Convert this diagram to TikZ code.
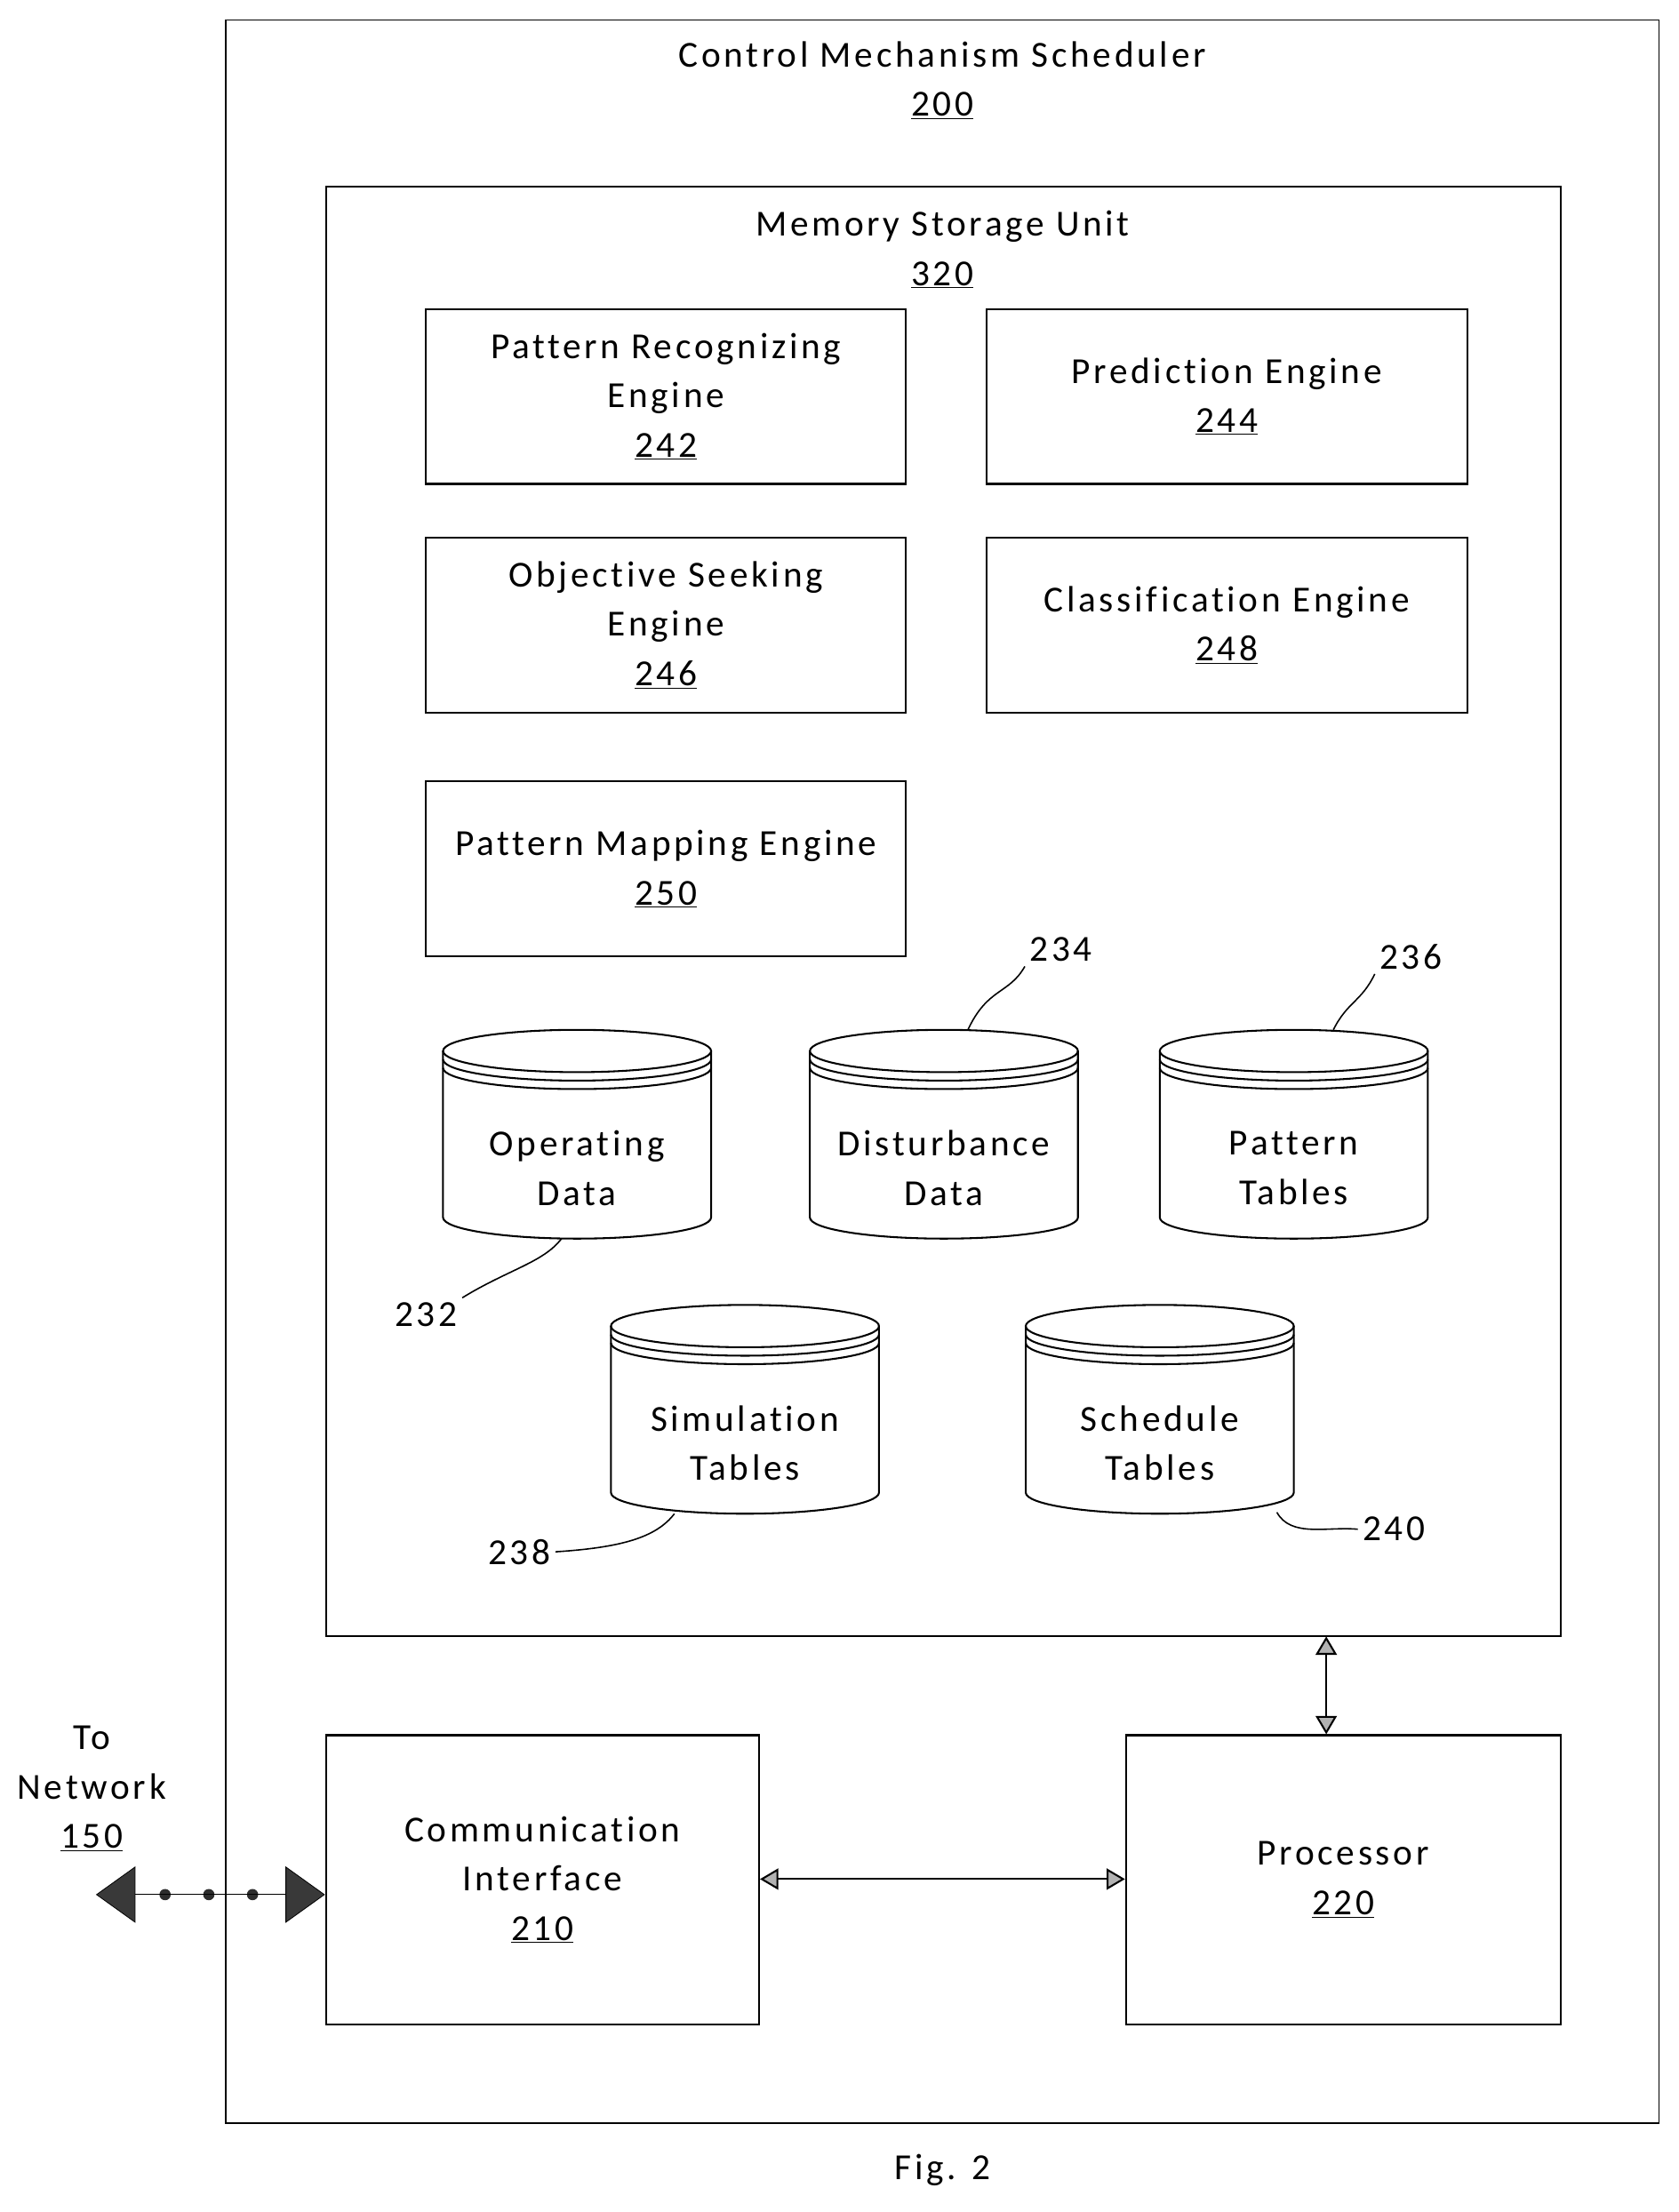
\documentclass[tikz,border=0pt]{standalone}
\usepackage{fontspec}
\setmainfont{Carlito}[LetterSpace=9,RawFeature=-liga]
\usetikzlibrary{arrows.meta}
\begin{document}
\begin{tikzpicture}[x=1pt,y=-1pt,
  box/.style={draw,line width=1.3pt,align=center,font=\fontsize{26}{35}\selectfont},
  lbl/.style={align=center,font=\fontsize{26}{35}\selectfont},
  lead/.style={line width=1pt},
  dbl/.style={line width=1.3pt,{Triangle[length=13,width=15,fill=gray!60]}-{Triangle[length=13,width=15,fill=gray!60]}},
  cyl/.style={draw=none,align=center,font=\fontsize{26}{35}\selectfont,minimum width=190,minimum height=148}]
\useasboundingbox (0,0) rectangle (1190,1568);
\draw[line width=0.8pt] (160,14) rectangle (1176,1505);
\node[lbl] (t200) at (668,57) {Control Mechanism Scheduler\\\underline{200}};
\draw[line width=1.3pt] (231,132) rectangle (1106,1160);
\coordinate (memS) at (940,1160);
\node[lbl] (t320) at (668,177) {Memory Storage Unit\\\underline{320}};
\node[box,minimum width=340,minimum height=124] (e242) at (472,281) {Pattern Recognizing\\Engine\\\underline{242}};
\node[box,minimum width=341,minimum height=124] (e244) at (869.5,281) {Prediction Engine\\\underline{244}};
\node[box,minimum width=340,minimum height=124] (e246) at (472,443) {Objective Seeking\\Engine\\\underline{246}};
\node[box,minimum width=341,minimum height=124] (e248) at (869.5,443) {Classification Engine\\\underline{248}};
\node[box,minimum width=340,minimum height=124] (e250) at (472,616) {Pattern Mapping Engine\\\underline{250}};
\newcommand\mycyl[4]{%
  \node[cyl] (#1) at (#2,#3+98) {#4};
  \draw[line width=1.3pt] (#2-95,#3+15) -- (#2-95,#3+133) arc[start angle=180,end angle=0,x radius=95,y radius=15] -- (#2+95,#3+15);
  \draw[line width=1.3pt] (#2,#3+15) ellipse[x radius=95,y radius=15];
  \draw[line width=1.3pt] (#2-95,#3+21) arc[start angle=180,end angle=0,x radius=95,y radius=15];
  \draw[line width=1.3pt] (#2-95,#3+27) arc[start angle=180,end angle=0,x radius=95,y radius=15];
}
\mycyl{c232}{409}{730}{Operating\\Data}
\mycyl{c234}{669}{730}{Disturbance\\Data}
\mycyl{c236}{917}{730}{Pattern\\Tables}
\mycyl{c238}{528}{925}{Simulation\\Tables}
\mycyl{c240}{822}{925}{Schedule\\Tables}
\node[lbl] (n234) at (752,673) {234};
\node[lbl] (n236) at (1000,678) {236};
\node[lbl] (n232) at (302,932) {232};
\node[lbl] (n238) at (368,1100) {238};
\node[lbl] (n240) at (988,1084) {240};
\draw[lead] (686,730) .. controls (700,700) and (715,705) .. (n234.south west);
\draw[lead] (945,730) .. controls (955,710) and (965,710) .. (n236.south west);
\draw[lead] (398,878) .. controls (385,895) and (360,900) .. (n232.north east);
\draw[lead] (478,1073) .. controls (465,1090) and (440,1097) .. (n238.east);
\draw[lead] (905,1072) .. controls (915,1090) and (940,1082) .. (n240.west);
\node[box,minimum width=307,minimum height=205] (c210) at (384.5,1332.5) {Communication\\Interface\\\underline{210}};
\node[box,minimum width=308,minimum height=205] (p220) at (952,1332.5) {Processor\\\underline{220}};
\draw[dbl] (memS) -- (p220.north -| memS);
\draw[dbl] (c210.east |- 0,1332) -- (p220.west |- 0,1332);
\node[lbl] (n150) at (65,1268) {To\\Network\\\underline{150}};
\coordinate (net) at (68,1343);
\draw[line width=8pt,line cap=round,dash pattern=on 0pt off 31pt,gray!35!black,shorten >=49pt,shorten <=49pt] (net) -- (c210.west |- 0,1343);
\draw[line width=0.5pt,black,{Triangle[length=28,width=40,fill=gray!45!black]}-{Triangle[length=28,width=40,fill=gray!45!black]}] (net) -- (c210.west |- 0,1343);
\node[lbl] (fig) at (668,1538) {Fig. 2};
\end{tikzpicture}
\end{document}
